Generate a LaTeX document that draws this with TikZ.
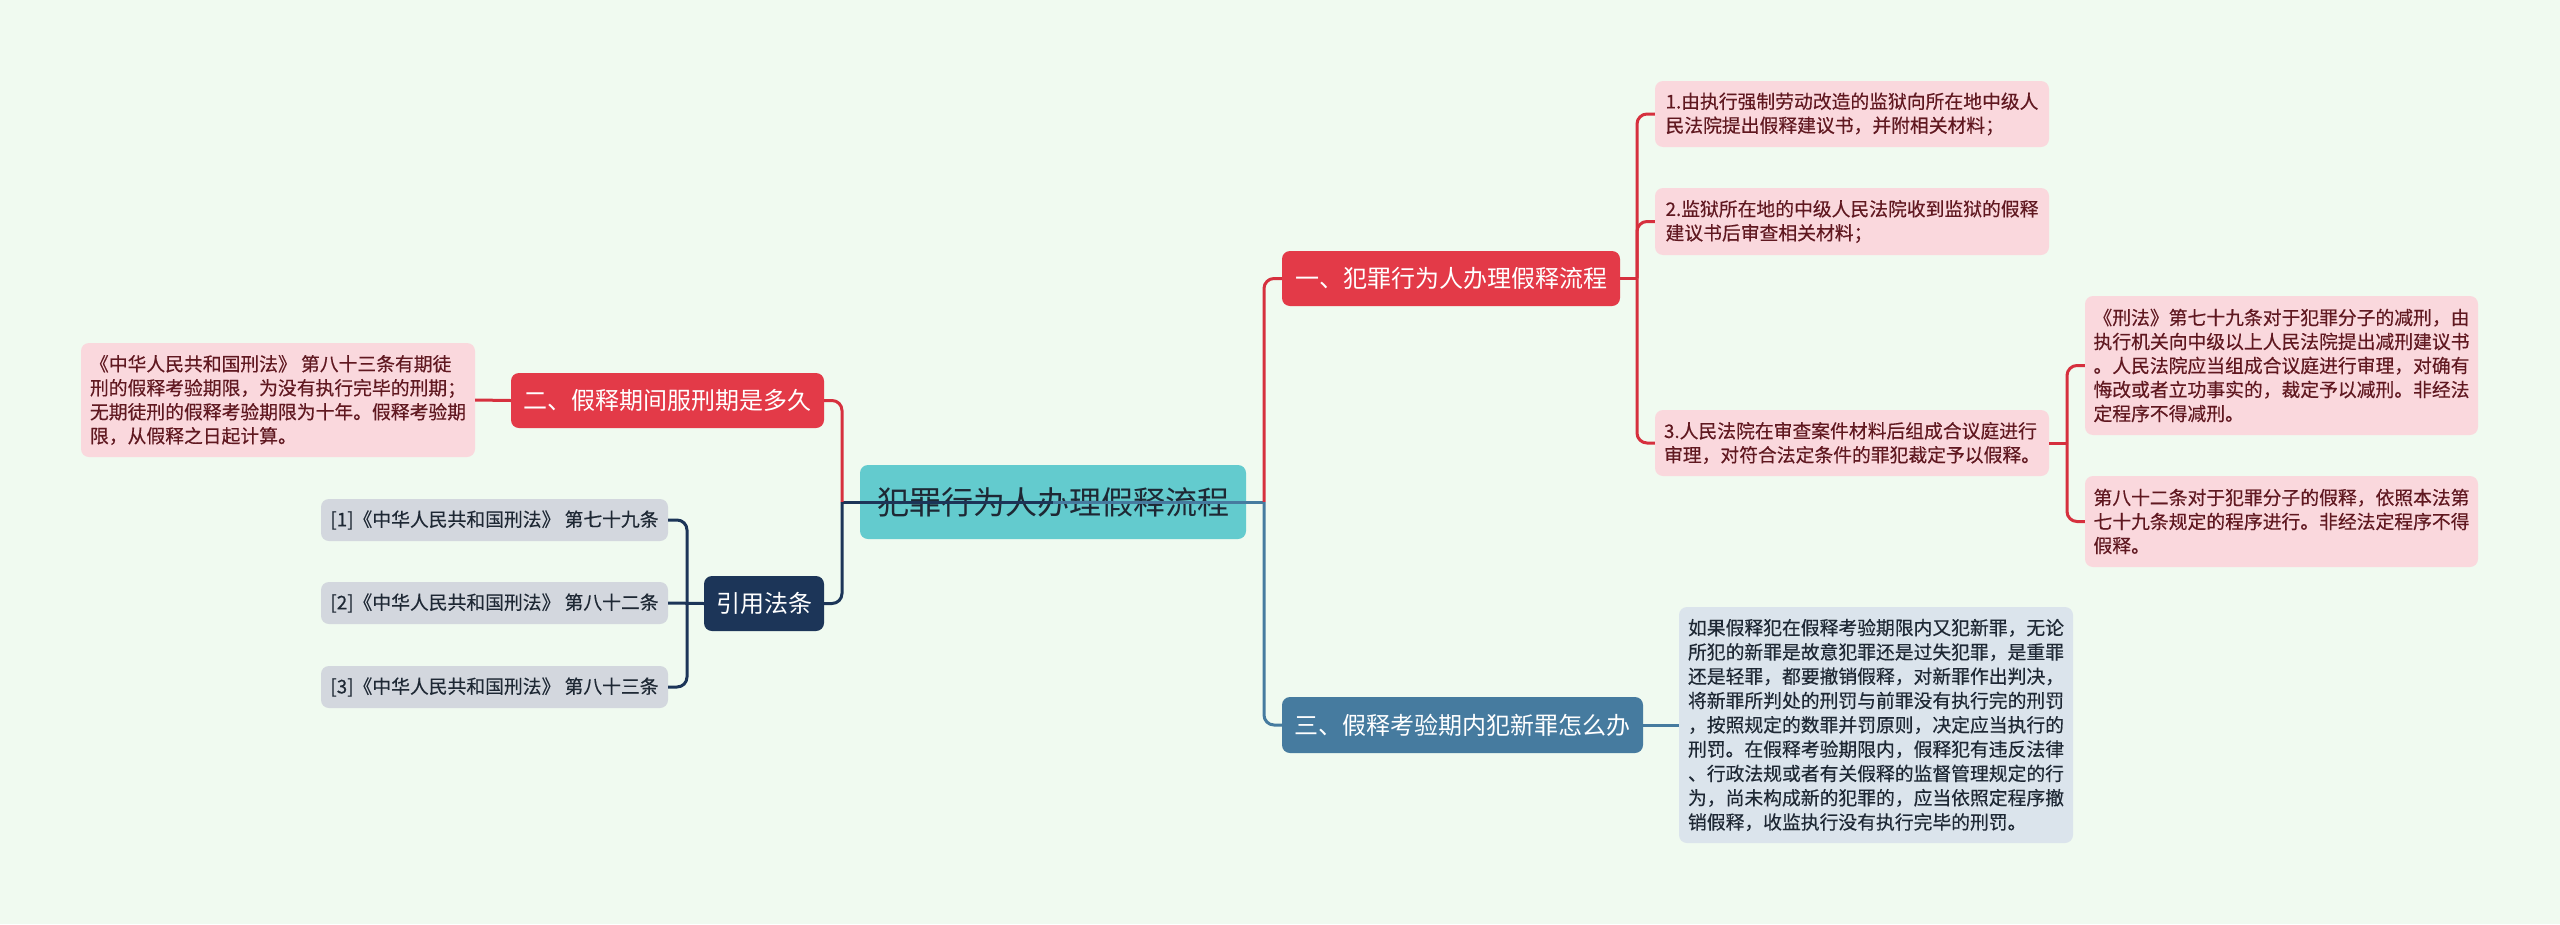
\documentclass[tikz,border=0pt]{standalone}
\usepackage{fontspec}
\setmainfont{Noto Sans CJK SC}[BoldFont={Noto Sans CJK SC}, BoldFeatures={FakeBold=0.35}]
\definecolor{bg}{RGB}{240,250,240}
\definecolor{redb}{RGB}{227,58,72}
\definecolor{redl}{RGB}{214,48,62}
\definecolor{pinkl}{RGB}{250,216,221}
\definecolor{pinkt}{RGB}{96,24,32}
\definecolor{blueb}{RGB}{70,123,159}
\definecolor{bluel}{RGB}{219,228,236}
\definecolor{navy}{RGB}{28,53,88}
\definecolor{greyl}{RGB}{211,215,222}
\definecolor{tealc}{RGB}{99,203,206}
\definecolor{darkt}{RGB}{30,40,52}
\begin{document}
\begin{tikzpicture}[x=1pt,y=-1pt,
  box/.style={rounded corners=8pt, inner sep=0pt, align=left},
  rootbox/.style={box, fill=tealc, text=darkt, font=\fontsize{32}{36}\selectfont},
  redbranch/.style={box, fill=redb, text=white, font=\fontsize{24}{28}\selectfont},
  bluebranch/.style={box, fill=blueb, text=white, font=\fontsize{24}{28}\selectfont},
  navybranch/.style={box, fill=navy, text=white, font=\fontsize{24}{28}\selectfont},
  pinkleaf/.style={box, fill=pinkl, text=pinkt, font=\fontsize{18.8}{24}\selectfont\bfseries},
  blueleaf/.style={box, fill=bluel, text=darkt, font=\fontsize{18.8}{24.3}\selectfont\bfseries},
  greyleaf/.style={box, fill=greyl, text=darkt, font=\fontsize{18.8}{24}\selectfont\bfseries},
  conn/.style={line width=3pt, rounded corners=10pt},
  redconn/.style={conn, draw=redl},
  blueconn/.style={conn, draw=blueb},
  navyconn/.style={conn, draw=navy}]
\useasboundingbox (0,0) rectangle (2560,924);
\fill[bg] (0,0) rectangle (2560,924);

% root
\node[rootbox, minimum width=386pt, minimum height=74pt] (root) at (1053,502) {犯罪行为人办理假释流程};

% branches
\node[redbranch, minimum width=338pt, minimum height=55pt] (b1) at (1451,278.5) {一、犯罪行为人办理假释流程};
\node[bluebranch, minimum width=361pt, minimum height=56pt] (b3) at (1462.5,725) {三、假释考验期内犯新罪怎么办};
\node[redbranch, minimum width=313pt, minimum height=55pt] (b2) at (667.5,400.5) {二、假释期间服刑期是多久};
\node[navybranch, minimum width=120pt, minimum height=55pt] (bref) at (764,603.5) {引用法条};

% right leaves
\node[pinkleaf, minimum width=394pt, minimum height=66pt] (L1) at (1852,114) {1.由执行强制劳动改造的监狱向所在地中级人\\民法院提出假释建议书，并附相关材料；};
\node[pinkleaf, minimum width=394pt, minimum height=67pt] (L2) at (1852,221.5) {2.监狱所在地的中级人民法院收到监狱的假释\\建议书后审查相关材料；};
\node[pinkleaf, minimum width=394pt, minimum height=66pt] (L3) at (1852,443) {3.人民法院在审查案件材料后组成合议庭进行\\审理，对符合法定条件的罪犯裁定予以假释。};
\node[pinkleaf, minimum width=393pt, minimum height=139pt] (L3a) at (2281.5,365.5) {《刑法》第七十九条对于犯罪分子的减刑，由\\执行机关向中级以上人民法院提出减刑建议书\\。人民法院应当组成合议庭进行审理，对确有\\悔改或者立功事实的，裁定予以减刑。非经法\\定程序不得减刑。};
\node[pinkleaf, minimum width=393pt, minimum height=91pt] (L3b) at (2281.5,521.5) {第八十二条对于犯罪分子的假释，依照本法第\\七十九条规定的程序进行。非经法定程序不得\\假释。};
\node[blueleaf, minimum width=394pt, minimum height=236pt] (B1) at (1876,725) {如果假释犯在假释考验期限内又犯新罪，无论\\所犯的新罪是故意犯罪还是过失犯罪，是重罪\\还是轻罪，都要撤销假释，对新罪作出判决，\\将新罪所判处的刑罚与前罪没有执行完的刑罚\\，按照规定的数罪并罚原则，决定应当执行的\\刑罚。在假释考验期限内，假释犯有违反法律\\、行政法规或者有关假释的监督管理规定的行\\为，尚未构成新的犯罪的，应当依照定程序撤\\销假释，收监执行没有执行完毕的刑罚。};

% left leaves
\node[pinkleaf, minimum width=394pt, minimum height=114pt] (LL) at (278,400) {《中华人民共和国刑法》 第八十三条有期徒\\刑的假释考验期限，为没有执行完毕的刑期；\\无期徒刑的假释考验期限为十年。假释考验期\\限，从假释之日起计算。};
\node[greyleaf, minimum width=347pt, minimum height=42pt] (R1) at (494.5,520) {[1]《中华人民共和国刑法》 第七十九条};
\node[greyleaf, minimum width=347pt, minimum height=42pt] (R2) at (494.5,603) {[2]《中华人民共和国刑法》 第八十二条};
\node[greyleaf, minimum width=347pt, minimum height=42pt] (R3) at (494.5,687) {[3]《中华人民共和国刑法》 第八十三条};

% junctions
\coordinate (jl) at (842,502);
\coordinate (jr) at (1264,502);
\coordinate (j1) at (1637,278.5);
\coordinate (j3) at (2067,443);
\coordinate (jref) at (687,603.5);

% connectors
\draw[navyconn] (root.center) -- (jl);
\draw[blueconn] (root.center) -- (jr);
\draw[redconn] (jl) |- (b2.east);
\draw[navyconn] (jl) |- (bref.east);
\draw[redconn] (jr) |- (b1.west);
\draw[blueconn] (jr) |- (b3.west);
\draw[redconn] (b1.east) -- (j1);
\draw[redconn] (j1) |- (L1.west);
\draw[redconn] (j1) |- (L2.west);
\draw[redconn] (j1) |- (L3.west);
\draw[redconn] (L3.east) -- (j3);
\draw[redconn] (j3) |- (L3a.west);
\draw[redconn] (j3) |- (L3b.west);
\draw[blueconn] (b3.east) -- (B1.west);
\draw[redconn] (b2.west) -- (LL.east);
\draw[navyconn] (bref.west) -- (R2.east);
\draw[navyconn] (jref) |- (R1.east);
\draw[navyconn] (jref) |- (R3.east);
\end{tikzpicture}
\end{document}
